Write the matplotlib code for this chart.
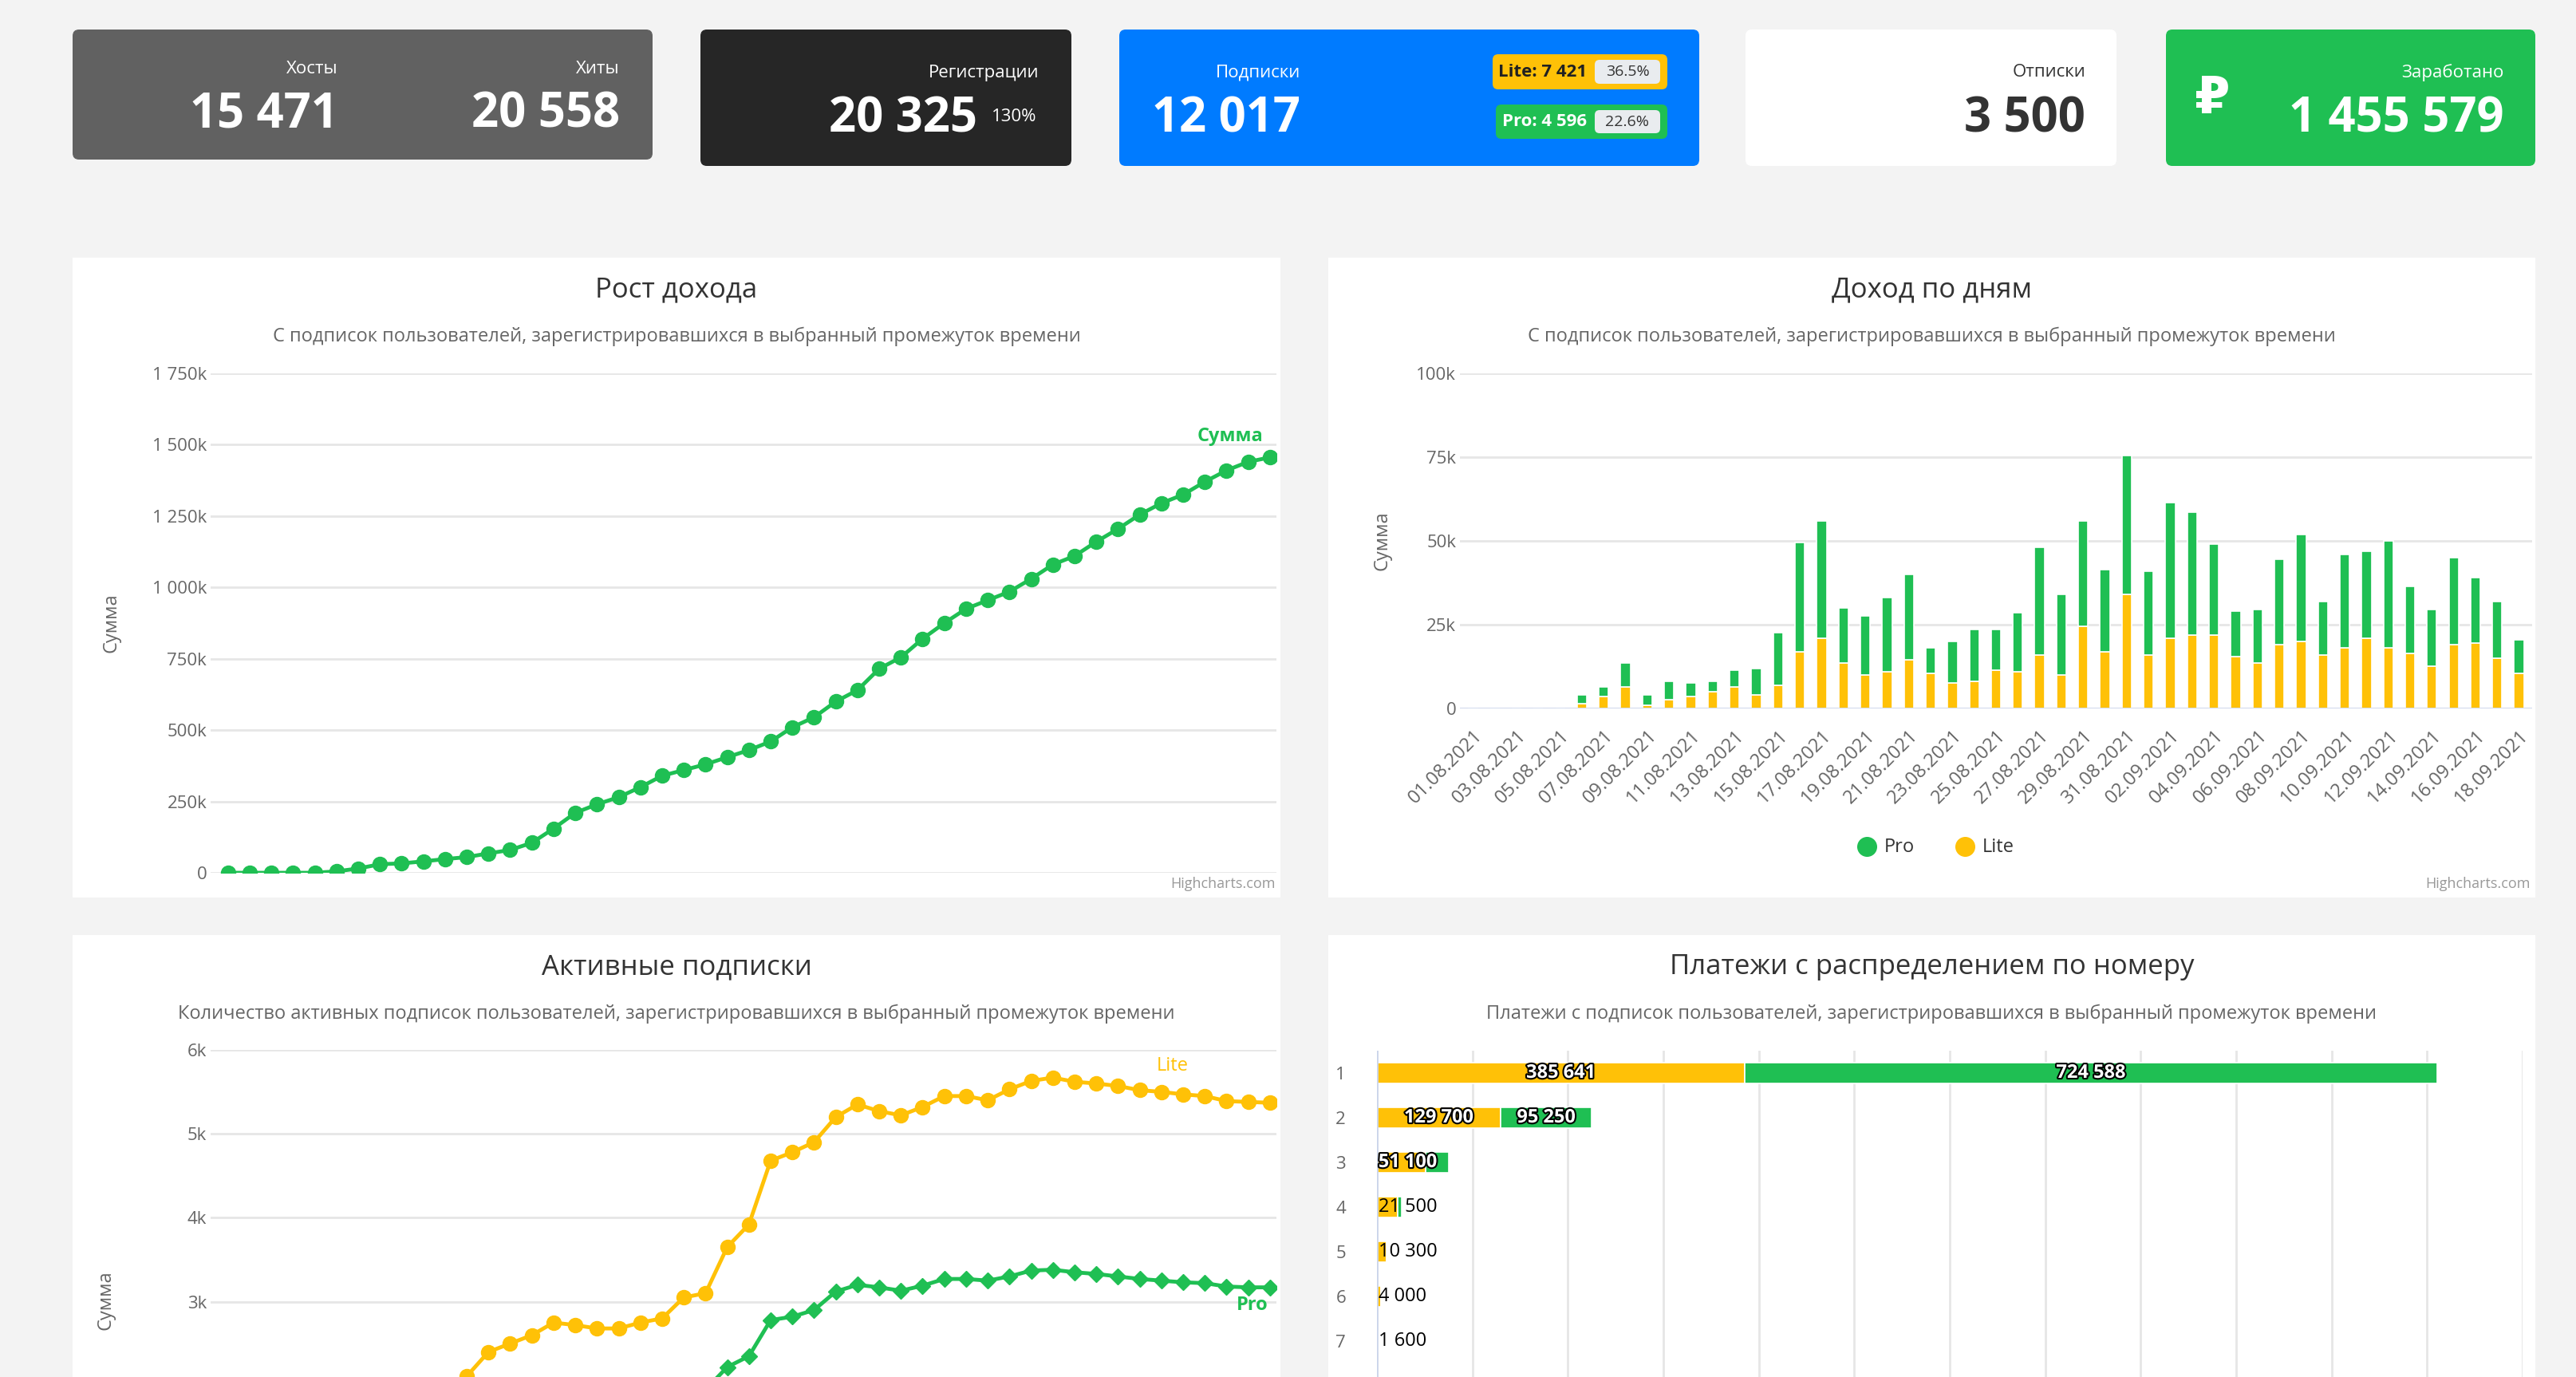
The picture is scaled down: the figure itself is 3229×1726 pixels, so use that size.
import numpy as np
import pandas as pd
import matplotlib
matplotlib.use("Agg")
import matplotlib.pyplot as plt
import matplotlib.patheffects as pe
from matplotlib.patches import FancyBboxPatch, Rectangle
from matplotlib.ticker import FuncFormatter

plt.rcParams['font.family'] = ['Open Sans', 'DejaVu Sans']

# DATA
W, H = 3230, 1726
dates = pd.date_range("2021-08-01", "2021-09-18").strftime("%d.%m.%Y").tolist()

cumulative = [0, 0, 0, 0, 0, 5e3, 15e3, 30e3, 33e3, 40e3, 48e3, 55e3, 68e3, 80e3, 105e3,
              155e3, 210e3, 240e3, 265e3, 300e3, 340e3, 360e3, 380e3, 405e3, 430e3,
              460e3, 510e3, 545e3, 600e3, 640e3, 715e3, 755e3, 820e3, 875e3, 925e3,
              955e3, 985e3, 1030e3, 1080e3, 1110e3, 1160e3, 1205e3, 1255e3, 1295e3, 1325e3,
              1370e3, 1410e3, 1440e3, 1455579]

daily_lite = [0, 0, 0, 0, 0, 1.5, 3.5, 6.5, 1, 2.5, 3.5, 5, 6.5, 4, 7, 17, 21, 13.5, 10, 11,
              14.5, 10.5, 7.5, 8, 11.5, 11, 16, 10, 24.5, 17, 34, 16, 21, 22, 22, 15.5, 13.5,
              19, 20, 16, 18, 21, 18, 16.5, 12.5, 19, 19.5, 15, 10.5]
daily_total = [0, 0, 0, 0, 0, 4, 6.5, 13.5, 4, 8, 7.5, 8, 11.5, 12, 22.5, 49.5, 56, 30, 27.5, 33,
               40, 18, 20, 23.5, 23.5, 28.5, 48, 34, 56, 41.5, 75.5, 41, 61.5, 58.5, 49, 29, 29.5,
               44.5, 52, 32, 46, 47, 50, 36.5, 29.5, 45, 39, 32, 20.5]

active_lite = [0, 0, 0, 0, 0, 150, 450, 800, 1200, 1500, 1800,
               2110, 2400, 2500, 2600, 2750, 2720, 2680, 2680, 2750, 2800, 3050, 3100, 3650,
               3920, 4680, 4780, 4900, 5200, 5350, 5270, 5220, 5320, 5450, 5450, 5400, 5530,
               5630, 5670, 5620, 5600, 5570, 5520, 5500, 5470, 5450, 5390, 5380, 5370]
active_pro = [0, 0, 0, 0, 0, 80, 250, 420, 600, 750, 900, 1000, 1100, 1200, 1300, 1400, 1450,
              1500, 1550, 1600, 1700, 1800, 1950,
              2220, 2350, 2780, 2820, 2900, 3120, 3200, 3170, 3130, 3190, 3270, 3270, 3250,
              3300, 3370, 3380, 3350, 3330, 3300, 3270, 3250, 3230, 3220, 3180, 3170, 3170]

pay_rows = [1, 2, 3, 4, 5, 6, 7]
pay_lite = [385641, 129700, 51100, 21500, 10300, 4000, 1600]
pay_pro = [724588, 95250, 24000, 4500, 0, 0, 0]

GREEN = "#1fbf53"
YELLOW = "#ffc107"
GRID = "#e6e6e6"
TICK = "#666666"


def fmt_k(v, pos=None):
    if v == 0:
        return "0"
    return "{:,}".format(int(round(v / 1000))).replace(",", " ") + "k"


def fmt_num(v):
    return "{:,}".format(int(v)).replace(",", " ")


def add_axes_px(fig, x0, y0, x1, y1):
    return fig.add_axes([x0 / W, 1 - y1 / H, (x1 - x0) / W, (y1 - y0) / H])


fig = plt.figure(figsize=(W / 100, H / 100), dpi=100, facecolor="#f3f3f3")
base = fig.add_axes([0, 0, 1, 1])
base.set_xlim(0, W)
base.set_ylim(H, 0)
base.axis("off")


def card(x0, y0, x1, y1, color):
    base.add_patch(FancyBboxPatch((x0, y0), x1 - x0, y1 - y0,
                                  boxstyle="round,pad=0,rounding_size=8",
                                  fc=color, ec="none"))


# cards
card(91, 37, 818, 200, "#616161")
card(878, 37, 1343, 208, "#262626")
card(1403, 37, 2130, 208, "#007bff")
card(2188, 37, 2653, 208, "white")
card(2715, 37, 3178, 208, "#1fbf53")

lab = dict(fontsize=16, color="white", ha="right", va="center")
big = dict(fontsize=43, color="white", ha="right", va="center", fontweight="bold")
base.text(424, 86, "Хосты", **lab)
base.text(424, 144, "15 471", **big)
base.text(777, 86, "Хиты", **lab)
base.text(777, 144, "20 558", **big)
base.text(1302, 91, "Регистрации", **lab)
base.text(1225, 150, "20 325", **big)
base.text(1243, 146, "130%", fontsize=16, color="white", ha="left", va="center")
base.text(1630, 91, "Подписки", **lab)
base.text(1444, 150, "12 017", fontsize=43, color="white", ha="left", va="center",
          fontweight="bold")
base.text(2614, 91, "Отписки", fontsize=16, color="#333333", ha="right", va="center")
base.text(2614, 150, "3 500", fontsize=43, color="#333333", ha="right", va="center",
          fontweight="bold")
base.text(3139, 91, "Заработано", **lab)
base.text(3139, 150, "1 455 579", **big)
base.text(2773, 124, "₽", fontsize=46, color="white", ha="center", va="center",
          fontweight="bold", family=["DejaVu Sans"])

# badges
for (bx0, by0, bx1, by1, col, txt, tcol, pct) in [
        (1871, 68, 2090, 112, YELLOW, "Lite: 7 421", "#212121", "36.5%"),
        (1875, 131, 2090, 174, "#1fbf53", "Pro: 4 596", "white", "22.6%")]:
    base.add_patch(FancyBboxPatch((bx0, by0), bx1 - bx0, by1 - by0,
                                  boxstyle="round,pad=0,rounding_size=7", fc=col, ec="none"))
    base.add_patch(FancyBboxPatch((1999, by0 + 7), 82, by1 - by0 - 14,
                                  boxstyle="round,pad=0,rounding_size=6", fc="#e9ecef", ec="none"))
    base.text(1989, (by0 + by1) / 2, txt, fontsize=16, color=tcol, ha="right", va="center",
              fontweight="bold")
    base.text(2040, (by0 + by1) / 2, pct, fontsize=14, color="#333333", ha="center", va="center")

# panels
panels = [(91, 323, 1605, 1125), (1665, 323, 3178, 1125),
          (91, 1172, 1605, 1800), (1665, 1172, 3178, 1800)]
for (x0, y0, x1, y1) in panels:
    base.add_patch(Rectangle((x0, y0), x1 - x0, y1 - y0, fc="white", ec="none"))

titles = [("Рост дохода", "С подписок пользователей, зарегистрировавшихся в выбранный промежуток времени"),
          ("Доход по дням", "С подписок пользователей, зарегистрировавшихся в выбранный промежуток времени"),
          ("Активные подписки", "Количество активных подписок пользователей, зарегистрировавшихся в выбранный промежуток времени"),
          ("Платежи с распределением по номеру", "Платежи с подписок пользователей, зарегистрировавшихся в выбранный промежуток времени")]
for (x0, y0, x1, y1), (t, s) in zip(panels, titles):
    cx = (x0 + x1) / 2
    base.text(cx, y0 + 40, t, fontsize=25, color="#333333", ha="center", va="center")
    base.text(cx, y0 + 99, s, fontsize=17, color="#666666", ha="center", va="center")
for (x0, y0, x1, y1) in panels[:2]:
    base.text(x1 - 6, y1 - 17, "Highcharts.com", fontsize=13, color="#999999", ha="right",
              va="center")


def style(ax):
    ax.set_facecolor("none")
    for s in ax.spines.values():
        s.set_visible(False)
    ax.tick_params(length=0, labelsize=16, colors=TICK)
    ax.grid(axis="y", color=GRID, linewidth=2)
    ax.set_axisbelow(True)


x = np.arange(len(dates))

# chart 1
ax1 = add_axes_px(fig, 264, 468, 1600, 1094)
style(ax1)
ax1.plot(x, cumulative, color=GREEN, lw=3.5, marker="o", ms=13)
ax1.set_xlim(-0.8, 48.3)
ax1.set_ylim(0, 1750e3)
ax1.set_yticks(np.arange(0, 1750001, 250000))
ax1.yaxis.set_major_formatter(FuncFormatter(fmt_k))
ax1.set_xticks([])
ax1.set_ylabel("Сумма", fontsize=17, color=TICK, labelpad=28)
ax1.text(47.7, 1.53e6, "Сумма", color=GREEN, fontsize=17, fontweight="bold", ha="right",
         va="center")

# chart 2
ax2 = add_axes_px(fig, 1830, 468, 3174, 888)
style(ax2)
lite = np.array(daily_lite) * 1000
pro = np.array(daily_total) * 1000 - lite
ax2.bar(x, lite, width=0.45, color=YELLOW, edgecolor="white", linewidth=1.2, label="Lite")
ax2.bar(x, pro, bottom=lite, width=0.45, color=GREEN, edgecolor="white", linewidth=1.2,
        label="Pro")
ax2.axhline(0, color="#ccd6eb", lw=2)
ax2.set_xlim(-0.6, 48.6)
ax2.set_ylim(0, 100e3)
ax2.set_yticks(np.arange(0, 100001, 25000))
ax2.yaxis.set_major_formatter(FuncFormatter(fmt_k))
ax2.set_xticks(x[::2])
ax2.set_xticklabels(dates[::2], rotation=45, ha="right", rotation_mode="anchor", fontsize=17)
ax2.tick_params(axis="x", pad=16)
ax2.set_ylabel("Сумма", fontsize=17, color=TICK, labelpad=22)
for lx, name, col in [(2340, "Pro", GREEN), (2463, "Lite", YELLOW)]:
    base.plot(lx, 1061, "o", ms=17, color=col)
    base.text(lx + 22, 1062, name, fontsize=17, color="#333333", ha="left", va="center")

# chart 3
ax3 = add_axes_px(fig, 264, 1316, 1600, 1947)
style(ax3)
ax3.plot(x, active_lite, color=YELLOW, lw=3.5, marker="o", ms=13)
ax3.plot(x, active_pro, color=GREEN, lw=3.5, marker="D", ms=10)
ax3.set_xlim(-0.8, 48.3)
ax3.set_ylim(0, 6000)
ax3.set_yticks(np.arange(3000, 6001, 1000))
ax3.yaxis.set_major_formatter(FuncFormatter(fmt_k))
ax3.set_xticks([])
ax3.text(43.5, 5810, "Lite", color=YELLOW, fontsize=17, ha="center", va="center")
ax3.text(47.2, 2960, "Pro", color=GREEN, fontsize=17, fontweight="bold", ha="center",
         va="center")
base.text(133, 1630, "Сумма", fontsize=17, color=TICK, rotation=90, ha="center", va="center")

# chart 4
ax4 = add_axes_px(fig, 1726, 1317, 3162, 1989)
style(ax4)
ax4.grid(axis="y", visible=False)
ax4.grid(axis="x", color=GRID, linewidth=2)
ax4.barh(pay_rows, pay_lite, height=0.45, color=YELLOW, edgecolor="white", linewidth=1.2)
ax4.barh(pay_rows, pay_pro, left=pay_lite, height=0.45, color=GREEN, edgecolor="white",
         linewidth=1.2)
ax4.axvline(0, color="#ccd6eb", lw=2)
ax4.set_xlim(0, 1200e3)
ax4.set_xticks(np.arange(0, 1200001, 100000))
ax4.set_xticklabels([])
ax4.set_ylim(12.5, 0.5)
ax4.set_yticks(pay_rows)
ax4.tick_params(axis="y", pad=28)
outline = [pe.withStroke(linewidth=3, foreground="black")]
for r, lv, pv in zip(pay_rows, pay_lite, pay_pro):
    if lv > 40000:
        xp = lv / 2 if lv > 100000 else 1500
        ax4.text(xp, r, fmt_num(lv), ha="center" if lv > 100000 else "left", color="white",
                 fontsize=17, fontweight="bold", va="center", path_effects=outline)
    else:
        ax4.text(1500, r, fmt_num(lv), ha="left", color="black", fontsize=17, va="center")
    if pv > 50000:
        ax4.text(lv + pv / 2, r, fmt_num(pv), ha="center", color="white", fontsize=17,
                 fontweight="bold", va="center", path_effects=outline)

fig.savefig("out.png", dpi=100, facecolor=fig.get_facecolor())
